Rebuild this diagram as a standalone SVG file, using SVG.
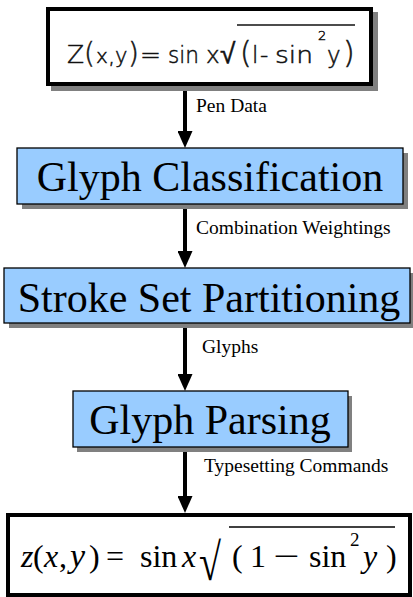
<svg xmlns="http://www.w3.org/2000/svg" width="413" height="597" viewBox="0 0 413 597">
<style>
.shadow{fill:#808080}
.blue{fill:#99CCFF;stroke:#000;stroke-width:1.3}
.frame{fill:#fff;stroke:#000;stroke-width:4}
.title{font-family:"Liberation Serif",serif;font-size:42px;fill:#000}
.lbl{font-family:"Liberation Serif",serif;font-size:19.5px;fill:#000}
.hw{font-family:"DejaVu Sans",sans-serif;font-weight:200;font-size:23px;fill:#111;stroke:#111;stroke-width:0.5}
.tex{font-family:"Liberation Serif",serif;font-size:32px;fill:#000}
.it{font-style:italic}
.conn{stroke:#000;stroke-width:4;fill:none}
</style>
<defs>
<marker id="ah" markerUnits="userSpaceOnUse" markerWidth="17" markerHeight="15" viewBox="0 0 17 15" refX="7" refY="7.5" orient="auto">
<path d="M0,0 L17,7.5 L0,15 z" fill="#000"/>
</marker>
</defs>

<g id="connectors">
<line class="conn" x1="185" y1="86" x2="185" y2="138" marker-end="url(#ah)"/>
<line class="conn" x1="185" y1="204" x2="185" y2="258" marker-end="url(#ah)"/>
<line class="conn" x1="185" y1="323" x2="185" y2="381" marker-end="url(#ah)"/>
<line class="conn" x1="185" y1="447" x2="185" y2="503" marker-end="url(#ah)"/>
<text class="lbl" x="196" y="112">Pen Data</text>
<text class="lbl" x="196" y="234">Combination Weightings</text>
<text class="lbl" x="202" y="353">Glyphs</text>
<text class="lbl" x="204" y="472">Typesetting Commands</text>
</g>

<g id="pen-input">
<rect class="shadow" x="51" y="12" width="327" height="79"/>
<rect class="frame" x="48" y="9" width="323" height="75"/>
<text class="hw" y="63"><tspan x="67" style="font-size:25px">Z</tspan><tspan x="84" style="font-size:28px">(</tspan><tspan x="96" style="font-size:20px">x</tspan><tspan x="108">,</tspan><tspan x="115" style="font-size:21px">y</tspan><tspan x="128" style="font-size:28px">)</tspan><tspan x="140" textLength="21" lengthAdjust="spacingAndGlyphs">=</tspan><tspan x="168" textLength="31" lengthAdjust="spacingAndGlyphs">sin</tspan><tspan x="206">x</tspan><tspan x="220" style="font-size:28px">√</tspan><tspan x="240" style="font-size:30px">(</tspan><tspan x="252">l</tspan><tspan x="260">-</tspan><tspan x="275" textLength="38" lengthAdjust="spacingAndGlyphs">sin</tspan><tspan x="318" y="40" style="font-size:13px">2</tspan><tspan x="327" y="63">y</tspan><tspan x="343" style="font-size:30px">)</tspan></text>
<line x1="237" y1="25" x2="355" y2="25" stroke="#111" stroke-width="1.5"/>
</g>

<g id="glyph-classification">
<rect class="shadow" x="22" y="153" width="386" height="56"/>
<rect class="blue" x="17" y="148" width="386" height="56"/>
<text class="title" x="210" y="191" text-anchor="middle">Glyph Classification</text>
</g>

<g id="stroke-set-partitioning">
<rect class="shadow" x="9" y="273" width="406" height="55"/>
<rect class="blue" x="4" y="268" width="406" height="55"/>
<text class="title" x="209" y="312" text-anchor="middle">Stroke Set Partitioning</text>
</g>

<g id="glyph-parsing">
<rect class="shadow" x="77" y="396" width="275" height="56"/>
<rect class="blue" x="73" y="391" width="275" height="56"/>
<text class="title" x="210" y="434" text-anchor="middle">Glyph Parsing</text>
</g>

<g id="typeset-output">
<rect class="frame" x="8" y="515" width="402" height="80"/>
<text class="tex" y="567"><tspan x="21" class="it">z</tspan><tspan x="33">(</tspan><tspan x="44" class="it">x</tspan><tspan x="59">,</tspan><tspan x="70" class="it" style="font-size:34px">y</tspan><tspan x="89">)</tspan><tspan x="106">=</tspan><tspan x="140">sin</tspan><tspan x="182" class="it">x</tspan><tspan x="232">(</tspan><tspan x="250">1</tspan><tspan x="309">sin</tspan><tspan x="350" y="546" style="font-size:19px">2</tspan><tspan x="363" y="567" class="it">y</tspan><tspan x="386">)</tspan></text>
<text class="tex" transform="translate(273,567) scale(1.45,1)">−</text>
<text class="tex" transform="translate(199,580) scale(1,1.31)" style="font-size:40px">√</text>
<line x1="229" y1="527" x2="395" y2="527" stroke="#000" stroke-width="1.6"/>
</g>
</svg>
